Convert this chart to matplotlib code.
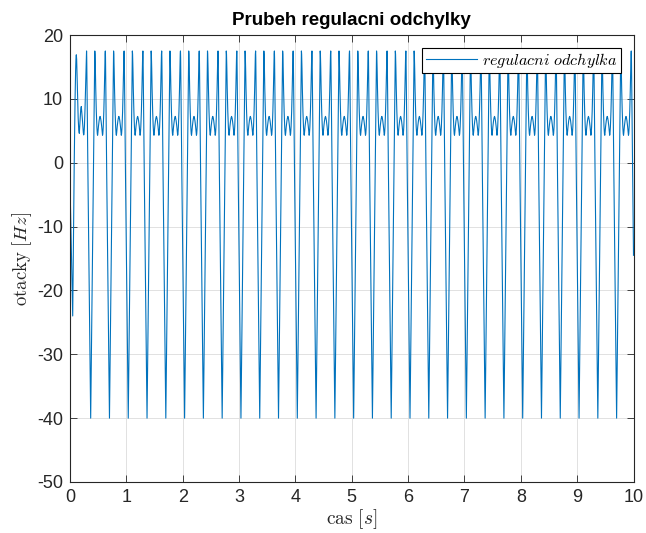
import numpy as np
import matplotlib
matplotlib.use("Agg")
import matplotlib.pyplot as plt

# start of the record, before the first dip (time s, value Hz)
start_t = [0.000, 0.004, 0.048, 0.060, 0.075, 0.090, 0.100, 0.106, 0.112, 0.118,
           0.125, 0.135, 0.145, 0.155, 0.165, 0.172, 0.180, 0.190, 0.2004,
           0.2187, 0.2287, 0.2367, 0.2427, 0.2487, 0.2567, 0.2667, 0.2767,
           0.2837, 0.2897, 0.2937, 0.2967, 0.3007, 0.3087, 0.3187, 0.3367, 0.3547]
start_v = [1.0, -5.0, -24.0, -13.0, 0.0, 10.0, 14.5, 16.3, 16.9, 16.2,
           13.8, 10.0, 7.0, 5.2, 4.6, 5.6, 7.0, 8.3, 8.8,
           6.9, 5.6, 4.7, 4.35, 4.6, 5.8, 8.5, 12.0,
           15.0, 17.0, 17.5, 16.5, 13.5, 6.5, -2.3, -16.4, -30.5]

# one period of the steady waveform, read from dip to dip
first_dip = 0.367
period = 1.0 / 3.0
n_periods = 29
phase = [0.000, 0.012, 0.030, 0.048, 0.058, 0.066, 0.070, 0.073, 0.077, 0.083,
         0.090, 0.100, 0.110, 0.118, 0.123, 0.128, 0.138, 0.150, 0.159, 0.1667,
         0.174, 0.183, 0.195, 0.205, 0.210, 0.215, 0.223, 0.233, 0.243, 0.250,
         0.256, 0.260, 0.263, 0.267, 0.275, 0.285, 0.303, 0.321]
shape = [-40.0, -30.5, -16.4, -2.3, 6.5, 13.5, 16.5, 17.5, 17.0, 14.8,
         11.5, 8.0, 5.6, 4.5, 4.3, 4.7, 5.7, 6.6, 7.05, 7.25,
         7.05, 6.6, 5.7, 4.7, 4.3, 4.5, 5.6, 8.0, 11.5, 14.8,
         17.0, 17.5, 16.5, 13.5, 6.5, -2.3, -16.4, -30.5]

end_t = [10.0]
end_v = [-14.5]

t = list(start_t)
v = list(start_v)
for k in range(n_periods):
    for p, s in zip(phase, shape):
        tt = first_dip + k * period + p
        if tt < 10.0:
            t.append(tt)
            v.append(s)
t += end_t
v += end_v

plt.rcParams['font.family'] = ['Liberation Sans', 'DejaVu Sans']
plt.rcParams['mathtext.fontset'] = 'cm'
plt.rcParams['axes.unicode_minus'] = False

axcol = '#262626'
fig = plt.figure(figsize=(6.46, 5.33), dpi=100)
ax = fig.add_axes([70 / 646, 1 - 482 / 533, 563.5 / 646, 447 / 533])

ax.plot(t, v, color='#0072BD', lw=0.8, label=r'$regulacni\ odchylka$')

ax.set_xlim(0, 10)
ax.set_ylim(-50, 20)
ax.set_xticks(np.arange(0, 11, 1))
ax.set_yticks(np.arange(-50, 21, 10))
ax.grid(True, color='#dcdcdc', lw=0.6)
ax.set_axisbelow(True)
ax.tick_params(direction='in', top=True, right=True, length=5, width=0.6,
               colors=axcol, labelsize=13, pad=5)
for sp in ax.spines.values():
    sp.set_color(axcol)
    sp.set_linewidth(0.8)

ax.set_title('Prubeh regulacni odchylky', fontsize=13.5, fontweight='bold',
             color='black', pad=7)
ax.set_xlabel(r'$\mathrm{cas}\ [s]$', fontsize=14, color=axcol, labelpad=1)
ax.set_ylabel(r'$\mathrm{otacky}\ [Hz]$', fontsize=13.5, color=axcol, labelpad=2)

leg = ax.legend(loc='upper right', fontsize=11.6, handlelength=3.2,
                handletextpad=0.3, borderaxespad=0.8, fancybox=False,
                framealpha=1, edgecolor='black', borderpad=0.2)
leg.get_frame().set_linewidth(0.8)

fig.savefig('out.png', dpi=100)
